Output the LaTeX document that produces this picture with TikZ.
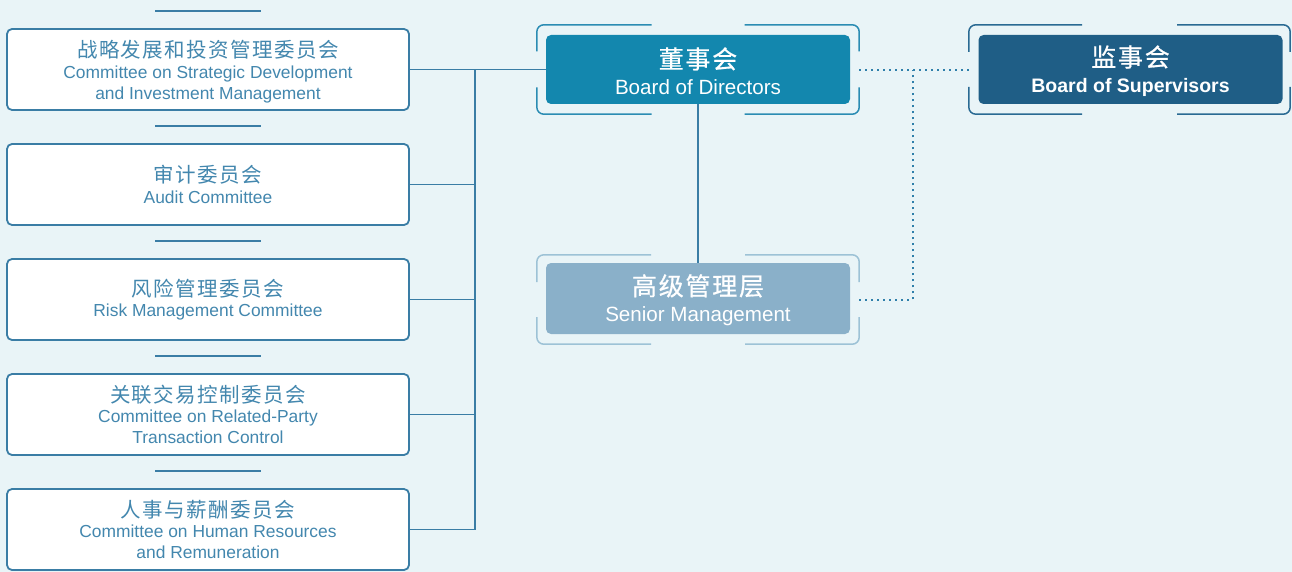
\documentclass[tikz,border=0pt]{standalone}
\usepackage{fontspec}
\setmainfont{Liberation Sans}
\newfontfamily\cjk{Noto Sans CJK SC}[LetterSpace=7]
\newfontfamily\cjkm{Noto Sans CJK SC}[LetterSpace=7,FakeBold=0.7]
\usetikzlibrary{calc}
\definecolor{bg}{HTML}{E9F4F7}
\definecolor{ln}{HTML}{3A7DA5}
\definecolor{tx}{HTML}{4387AE}
\definecolor{bdfill}{HTML}{1387AE}
\definecolor{bdframe}{HTML}{2B8CB3}
\definecolor{supfill}{HTML}{1F5E86}
\definecolor{supframe}{HTML}{2A6A93}
\definecolor{smfill}{HTML}{8AB0C9}
\definecolor{smframe}{HTML}{9DC2D6}
\definecolor{dotc}{HTML}{2F7FAA}
\newcommand\brk[4]{%
  \draw[#4,line width=1.5,rounded corners=7]
    ($(#1.north)+(-#2,0)$) -| ($(#1.west)+(0,-#3)$)
    ($(#1.north)+(#2,0)$) -| ($(#1.east)+(0,-#3)$)
    ($(#1.south)+(-#2,0)$) -| ($(#1.west)+(0,#3)$)
    ($(#1.south)+(#2,0)$) -| ($(#1.east)+(0,#3)$);}
\newcommand\cnl[1]{{\cjk\fontsize{20.5}{21}\selectfont #1}}
\newcommand\cnm[1]{{\cjkm\fontsize{25}{24}\selectfont\rule{0pt}{24pt}#1}}
\begin{document}
\begin{tikzpicture}[x=1pt,y=-1pt,
  cbox/.style={draw=ln,line width=1.8,fill=white,rounded corners=5,
    minimum width=402,minimum height=81,inner sep=0,align=center,
    text=tx,font=\fontsize{17.4}{21}\selectfont},
  mainbox/.style={rounded corners=5,minimum width=304,minimum height=69,
    inner sep=0,align=center,text=white,font=\fontsize{20.6}{24}\selectfont},
  frm/.style={minimum width=322,minimum height=89,inner sep=0},
  conn/.style={draw=ln,line width=1.6},
  dotline/.style={draw=dotc,line width=2,dash pattern=on 2pt off 4pt}]
\useasboundingbox (0,0) rectangle (1292,572);
\fill[bg] (0,0) rectangle (1292,572);

% left committee boxes
\node[cbox] (c1) at (208,69.5) {\cnl{\rule{0pt}{22pt}战略发展和投资管理委员会}\\[-0.5pt]Committee on Strategic Development\\and Investment Management};
\node[cbox] (c2) at (208,184.5) {\cnl{审计委员会}\\[-0.5pt]Audit Committee};
\node[cbox] (c3) at (208,299.5) {\cnl{风险管理委员会}\\[-0.5pt]Risk Management Committee};
\node[cbox] (c4) at (208,414.5) {\cnl{关联交易控制委员会}\\[-0.5pt]Committee on Related-Party\\Transaction Control};
\node[cbox] (c5) at (208,529.5) {\cnl{人事与薪酬委员会}\\[-0.5pt]Committee on Human Resources\\and Remuneration};

% short separator lines
\foreach \i in {1,...,5}
  \draw[conn] ($(c\i.north)+(-53,-17)$) -- ++(106,0);

% main boxes
\node[mainbox,fill=bdfill] (board) at (698,69.5) {\cnm{董事会}\\[2pt]Board of Directors};
\node[mainbox,fill=supfill] (sup) at (1130.5,69.5) {\cnm{监事会}\\[2pt]\textbf{\fontsize{19.5}{24}\selectfont Board of Supervisors}};
\node[mainbox,fill=smfill,minimum height=71] (senior) at (698,298.5) {\cnm{高级管理层}\\[2pt]Senior Management};

% bracket frames
\node[frm] (boardf) at (698,69.5) {};
\node[frm,minimum width=321] (supf) at (1129.5,69.5) {};
\node[frm] (seniorf) at (698,299.5) {};
\brk{boardf}{46.5}{18}{bdframe}
\brk{supf}{47.5}{17.5}{supframe}
\brk{seniorf}{47}{17.5}{smframe}

% connectors
\coordinate (bx) at (475,0);
\coordinate (dj) at (913,70);
\draw[conn] (c1.east) -- (board.west);
\draw[conn] (c5.east) -| (c1.east -| bx);
\foreach \i in {2,3,4}
  \draw[conn] (c\i.east) -- (c\i.east -| bx);
\draw[conn] (board.south) -- (senior.north);
\draw[dotline] (boardf.east) ++(0,0.5) -- (supf.west |- dj);
\draw[dotline] (seniorf.east) -| (dj);
\end{tikzpicture}
\end{document}
